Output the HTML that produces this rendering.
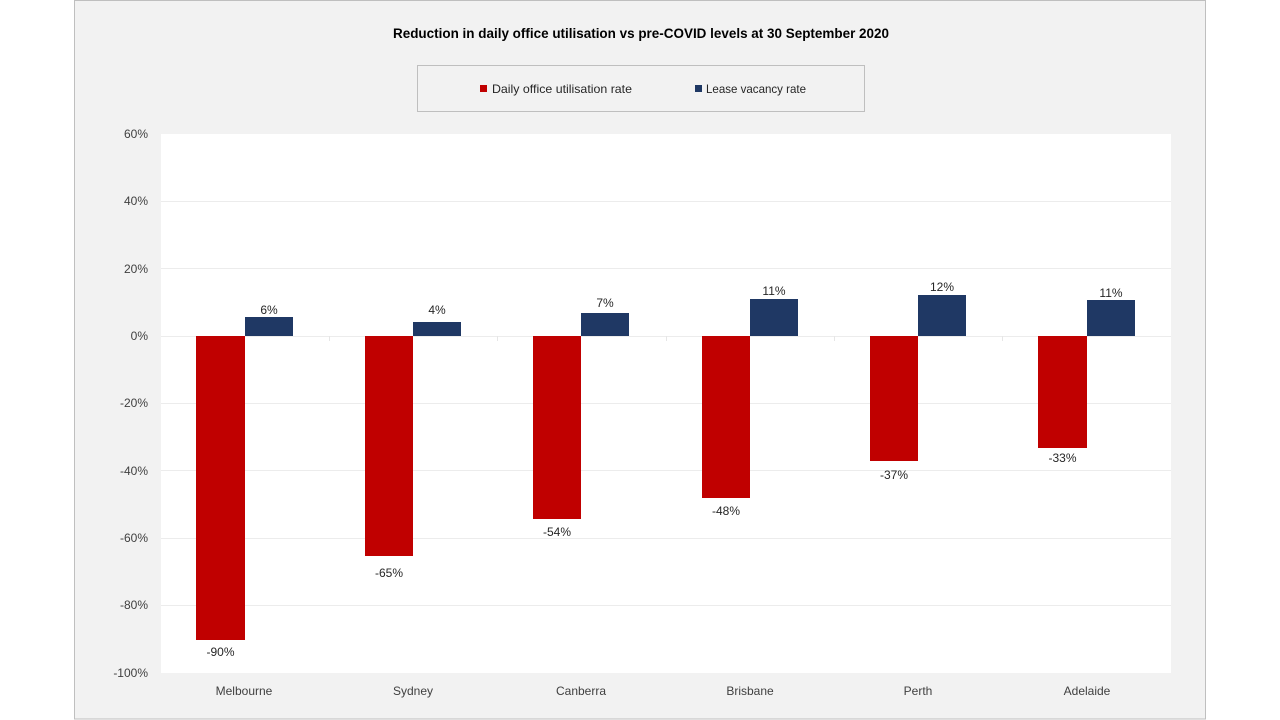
<!DOCTYPE html>
<html>
<head>
<meta charset="utf-8">
<style>
  html, body { margin: 0; padding: 0; background: #ffffff; }
  svg { display: block; }
  text { font-family: "Liberation Sans", "DejaVu Sans", sans-serif; }
</style>
</head>
<body>
<svg width="1280" height="720" viewBox="0 0 1280 720" xmlns="http://www.w3.org/2000/svg">
  <rect x="0" y="0" width="1280" height="720" fill="#ffffff"/>
  <!-- chart area -->
  <rect x="74.5" y="0.5" width="1131" height="718.5" fill="#f2f2f2" stroke="#bfbfbf" stroke-width="1"/>

  <!-- title -->
  <text x="641" y="38" font-size="13.5" font-weight="bold" fill="#000000" text-anchor="middle" textLength="496" lengthAdjust="spacingAndGlyphs">Reduction in daily office utilisation vs pre-COVID levels at 30 September 2020</text>

  <!-- legend -->
  <rect x="417.5" y="65.5" width="447" height="46" fill="#f2f2f2" stroke="#bfbfbf" stroke-width="1"/>
  <rect x="480" y="85" width="7" height="7" fill="#c00000"/>
  <text x="492" y="93" font-size="12" fill="#262626" textLength="140" lengthAdjust="spacingAndGlyphs">Daily office utilisation rate</text>
  <rect x="695" y="85" width="7" height="7" fill="#1f3864"/>
  <text x="706" y="93" font-size="12" fill="#262626" textLength="100" lengthAdjust="spacingAndGlyphs">Lease vacancy rate</text>

  <!-- plot area -->
  <rect x="161" y="134" width="1010" height="539" fill="#ffffff"/>

  <!-- gridlines -->
  <g stroke="#ececec" stroke-width="1">
    <line x1="161" y1="201.5" x2="1171" y2="201.5"/>
    <line x1="161" y1="268.5" x2="1171" y2="268.5"/>
    <line x1="161" y1="336.5" x2="1171" y2="336.5"/>
    <line x1="161" y1="403.5" x2="1171" y2="403.5"/>
    <line x1="161" y1="470.5" x2="1171" y2="470.5"/>
    <line x1="161" y1="538.5" x2="1171" y2="538.5"/>
    <line x1="161" y1="605.5" x2="1171" y2="605.5"/>
  </g>
  <!-- small category ticks -->
  <g stroke="#e6e6e6" stroke-width="1">
    <line x1="329.5" y1="336" x2="329.5" y2="341"/>
    <line x1="497.5" y1="336" x2="497.5" y2="341"/>
    <line x1="666.5" y1="336" x2="666.5" y2="341"/>
    <line x1="834.5" y1="336" x2="834.5" y2="341"/>
    <line x1="1002.5" y1="336" x2="1002.5" y2="341"/>
  </g>

  <!-- y axis labels -->
  <g font-size="12" fill="#404040" text-anchor="end">
    <text x="148" y="138">60%</text>
    <text x="148" y="205">40%</text>
    <text x="148" y="273">20%</text>
    <text x="148" y="340">0%</text>
    <text x="148" y="407">-20%</text>
    <text x="148" y="475">-40%</text>
    <text x="148" y="542">-60%</text>
    <text x="148" y="609">-80%</text>
    <text x="148" y="677">-100%</text>
  </g>

  <!-- red bars -->
  <g fill="#c00000">
    <rect x="196" y="336" width="49" height="304"/>
    <rect x="365" y="336" width="48" height="220"/>
    <rect x="533" y="336" width="48" height="183"/>
    <rect x="702" y="336" width="48" height="162"/>
    <rect x="870" y="336" width="48" height="125"/>
    <rect x="1038" y="336" width="49" height="112"/>
  </g>
  <!-- blue bars -->
  <g fill="#1f3864">
    <rect x="245" y="317" width="48" height="19"/>
    <rect x="413" y="322" width="48" height="14"/>
    <rect x="581" y="313" width="48" height="23"/>
    <rect x="750" y="299" width="48" height="37"/>
    <rect x="918" y="295" width="48" height="41"/>
    <rect x="1087" y="300" width="48" height="36"/>
  </g>

  <!-- data labels -->
  <g font-size="12" fill="#262626" text-anchor="middle">
    <text x="220.5" y="656">-90%</text>
    <text x="389" y="577">-65%</text>
    <text x="557" y="536">-54%</text>
    <text x="726" y="515">-48%</text>
    <text x="894" y="479">-37%</text>
    <text x="1062.5" y="462">-33%</text>

    <text x="269" y="314">6%</text>
    <text x="437" y="314">4%</text>
    <text x="605" y="307">7%</text>
    <text x="774" y="295">11%</text>
    <text x="942" y="291">12%</text>
    <text x="1111" y="297">11%</text>
  </g>

  <!-- category labels -->
  <g font-size="12" fill="#404040" text-anchor="middle">
    <text x="244" y="695">Melbourne</text>
    <text x="413" y="695">Sydney</text>
    <text x="581" y="695">Canberra</text>
    <text x="750" y="695">Brisbane</text>
    <text x="918" y="695">Perth</text>
    <text x="1087" y="695">Adelaide</text>
  </g>
</svg>
</body>
</html>
